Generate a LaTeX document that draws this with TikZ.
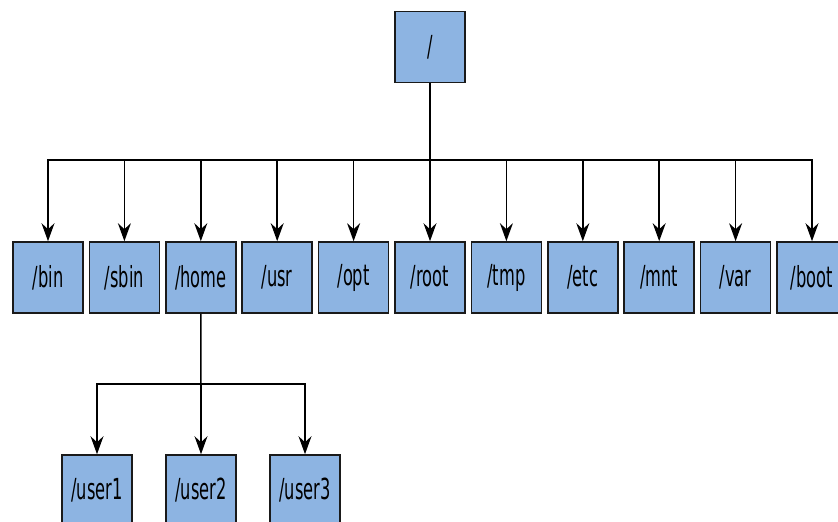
\documentclass[tikz,border=0pt]{standalone}
\usepackage{fontspec}
\setmainfont{DejaVu Sans}[FakeStretch=0.56]
\usetikzlibrary{arrows.meta}
\definecolor{dirfill}{HTML}{8DB4E2}
\definecolor{dirline}{HTML}{1A1A1A}
\tikzset{
  dir/.style={draw=dirline, line width=1.6pt, fill=dirfill, minimum width=70pt,
    minimum height=71pt, inner sep=0pt, font=\fontsize{29}{32}\selectfont},
  link/.style={draw=black, line width=1.5pt,
    -{Stealth[length=18pt, width=13pt, inset=6pt]}},
  trunk/.style={draw=black, line width=1.5pt},
}
\begin{document}
\begin{tikzpicture}[x=1pt, y=-1pt]
  \useasboundingbox (0,0) rectangle (838,522);
  \clip (0,0) rectangle (838,522);

  % root directory
  \node[dir] (root) at (430,47) {/};

  % first level
  \foreach \name/\lbl [count=\i from 0] in
      {bin/bin, sbin/sbin, home/home, usr/usr, opt/opt, rootdir/root,
       tmp/tmp, etc/etc, mnt/mnt, var/var, boot/boot}
    \node[dir] (\name) at ({48+76.4*\i},277.5) {/\lbl};

  % second level under /home
  \node[dir] (user1) at (97,490.5) {/user1};
  \node[dir] (user2) at (201,490.5) {/user2};
  \node[dir] (user3) at (305,490.5) {/user3};

  % branching points
  \coordinate (hub) at (430,160);
  \coordinate (homehub) at (201,384);

  % root to first level
  \draw[trunk] (root.south) -- (hub);
  \draw[trunk, line width=2.6pt, draw=black!80] (bin.north |- hub) -- (boot.north |- hub);
  \foreach \name in {bin, sbin, home, usr, opt, rootdir, tmp, etc, mnt, var, boot}
    \draw[link] (hub) -| (\name.north);

  % /home to users
  \draw[trunk] (home.south) -- (homehub);
  \foreach \name in {user1, user2, user3}
    \draw[link] (homehub) -| (\name.north);
\end{tikzpicture}
\end{document}
